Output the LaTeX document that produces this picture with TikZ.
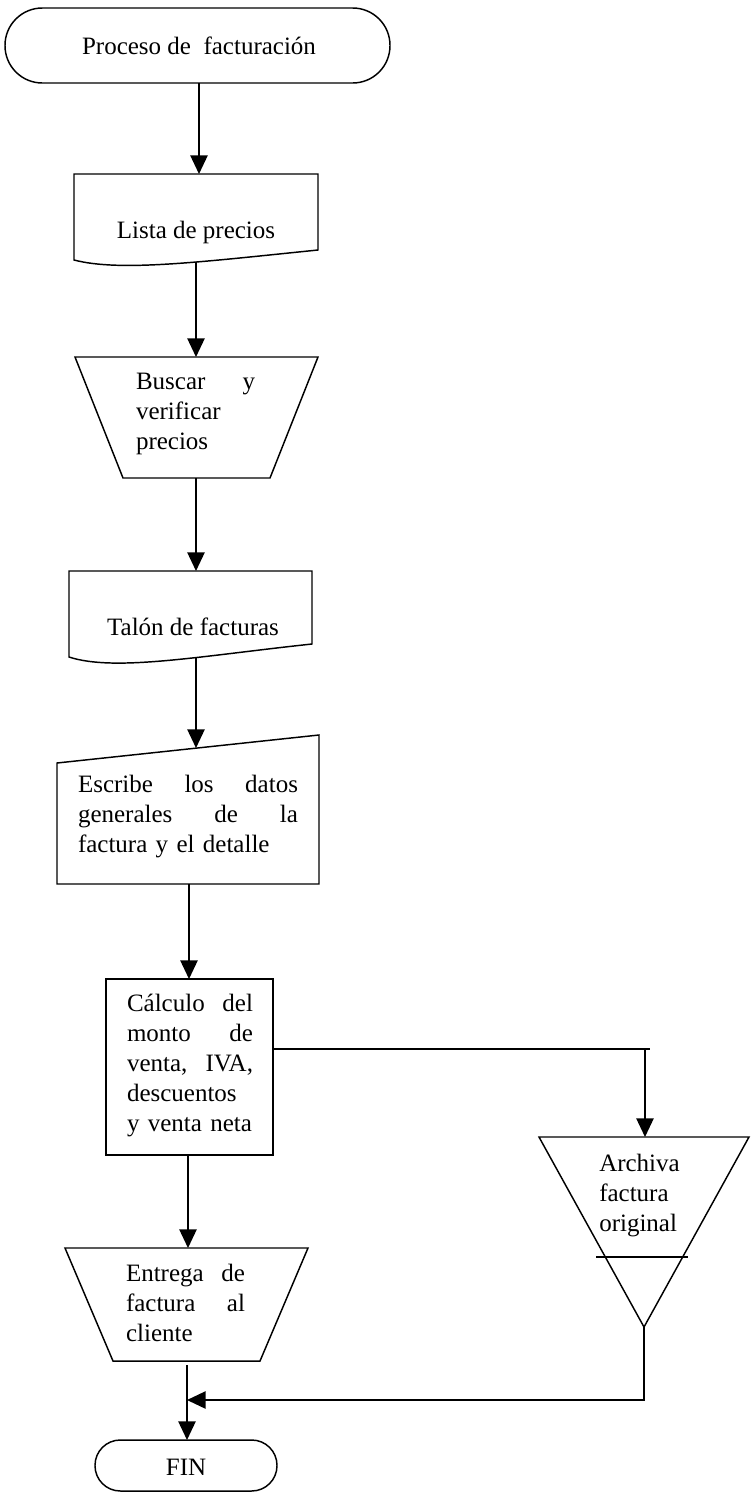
\documentclass[tikz,border=0pt]{standalone}
\usepackage{fontspec}
\setmainfont{Liberation Serif}
\usetikzlibrary{arrows.meta}
\newcommand{\jline}[2]{\leavevmode\hbox to #1{#2}}
\begin{document}
\begin{tikzpicture}[x=0.75pt,y=-0.75pt,
  shapeline/.style={draw=black,line width=1.1pt,line join=miter},
  conn/.style={draw=black,line width=1.1pt},
  arr/.style={conn,-{Triangle[length=14pt,width=13pt]}},
  lbl/.style={font=\fontsize{18.75}{22.5}\selectfont,inner sep=0pt,align=left},
]
\useasboundingbox (0,0) rectangle (751,1493);

% ---- start terminator
\draw[shapeline,rounded corners=28pt] (5,8) rectangle (390,83);
\node[lbl] (start) at (199,46) {Proceso de~ facturación};
\coordinate (start s) at (199,83);

% ---- Lista de precios (document)
\draw[shapeline] (74,174) -- (318,174) -- (318,250) .. controls (200,262) and (120,272) .. (74,260) -- cycle;
\node[lbl] (lista) at (196,232) {Lista de precios};
\coordinate (lista n) at (199,174);
\coordinate (lista s) at (196,262);

% ---- Buscar y verificar precios (manual operation)
\draw[shapeline] (75,357) -- (318,357) -- (270,478) -- (123,478) -- cycle;
\node[lbl,text width=89.25pt] (buscar) at (195.5,414) {\jline{89.25pt}{Buscar\hfill y}\\verificar\\precios};
\coordinate (buscar n) at (196,357);
\coordinate (buscar s) at (196,478);

% ---- Talon de facturas (document)
\draw[shapeline] (69,571) -- (312,571) -- (312,644) .. controls (200,656) and (115,672) .. (69,657) -- cycle;
\node[lbl] (talon) at (193,627) {Talón de facturas};
\coordinate (talon n) at (196,571);
\coordinate (talon s) at (196,658);

% ---- Escribe (manual input)
\draw[shapeline] (57,763) -- (319,735) -- (319,884) -- (57,884) -- cycle;
\node[lbl,text width=165pt] (escribe) at (188,817) {\jline{165pt}{Escribe\hfill los\hfill datos}\\\jline{165pt}{generales\hfill de\hfill la}\\factura y el detalle};
\coordinate (escribe n) at (196,748);
\coordinate (escribe s) at (189,884);

% ---- Calculo (process)
\draw[shapeline] (106,979) rectangle (273,1155);
\node[lbl,text width=94.5pt] (calculo) at (190,1065) {\jline{94.5pt}{Cálculo\hfill del}\\\jline{94.5pt}{monto\hfill de}\\\jline{94.5pt}{venta,\hfill IVA,}\\descuentos\\y venta neta};
\coordinate (calculo n) at (189,979);
\coordinate (calculo s) at (188,1155);
\coordinate (calculo e) at (273,1049);
\coordinate (branch) at (645,1049);
\coordinate (branch end) at (650,1049);

% ---- Archiva factura original (file / storage)
\draw[shapeline] (539,1137) -- (749,1137) -- (644,1327) -- cycle;
\draw[conn] (596,1257) -- (688,1257);
\node[lbl,anchor=west] (archiva) at (599,1196) {Archiva\\factura\\original};
\coordinate (archiva n) at (645,1137);
\coordinate (archiva s) at (644,1327);
\coordinate (ret corner) at (644,1400);
\coordinate (ret end) at (187,1400);

% ---- Entrega (manual operation)
\draw[shapeline] (65,1248) -- (308,1248) -- (260,1361) -- (113,1361) -- cycle;
\node[lbl,text width=89.25pt] (entrega) at (185.5,1303) {\jline{89.25pt}{Entrega\hfill de}\\\jline{89.25pt}{factura\hfill al}\\cliente};
\coordinate (entrega n) at (188,1248);
\coordinate (entrega s) at (187,1365);

% ---- FIN terminator
\draw[shapeline,rounded corners=19pt] (95,1440) rectangle (277,1491);
\node[lbl] (fin) at (186,1467) {FIN};
\coordinate (fin n) at (187,1440);

% ---- connectors
\draw[arr] (start s) -- (lista n);
\draw[arr] (lista s) -- (buscar n);
\draw[arr] (buscar s) -- (talon n);
\draw[arr] (talon s) -- (escribe n);
\draw[arr] (escribe s) -- (calculo n);
\draw[arr] (calculo s) -- (entrega n);
\draw[conn] (calculo e) -- (branch end);
\draw[arr] (branch) -- (archiva n);
\draw[arr] (entrega s) -- (fin n);
\draw[arr] (archiva s) -- (ret corner) -- (ret end);
\end{tikzpicture}
\end{document}
